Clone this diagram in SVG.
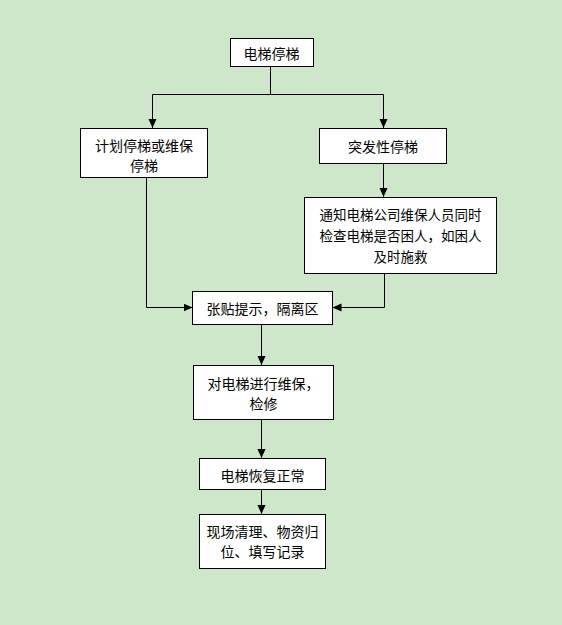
<svg xmlns="http://www.w3.org/2000/svg" width="562" height="625" viewBox="0 0 562 625">
<style>
.box{fill:#ffffff;stroke:#000000;stroke-width:1}
.t{font-family:"Noto Sans CJK SC","Noto Sans",sans-serif;font-size:14px;fill:#000000;text-anchor:middle;dominant-baseline:central}
.s{font-size:13.5px}
.ln{fill:none;stroke:#000000;stroke-width:1}
</style>
<defs>
<marker id="arr" markerUnits="userSpaceOnUse" markerWidth="9" markerHeight="9" viewBox="0 0 9 9" refX="9" refY="4.5" orient="auto">
<path d="M0,0.5 L9,4.5 L0,8.5 Z" fill="#000000"/>
</marker>
</defs>
<rect x="0" y="0" width="562" height="625" fill="#cee7ca"/>
<g id="connectors">
<path class="ln" d="M270.5,66 V94.5 H152.5 V128" marker-end="url(#arr)"/>
<path class="ln" d="M270.5,94.5 H383.5 V128" marker-end="url(#arr)"/>
<path class="ln" d="M383.5,163 V197" marker-end="url(#arr)"/>
<path class="ln" d="M146.5,177 V307.5 H192.5" marker-end="url(#arr)"/>
<path class="ln" d="M384.5,273 V307.5 H332.5" marker-end="url(#arr)"/>
<path class="ln" d="M261.5,324 V365" marker-end="url(#arr)"/>
<path class="ln" d="M261.5,419 V458" marker-end="url(#arr)"/>
<path class="ln" d="M261.5,489 V514" marker-end="url(#arr)"/>
</g>
<g id="n1">
<rect class="box" x="230.5" y="38.5" width="83" height="28"/>
<text class="t" x="271.5" y="52.5">电梯停梯</text>
</g>
<g id="n2">
<rect class="box" x="80.5" y="128.5" width="127" height="49"/>
<text class="t" x="144" y="145">计划停梯或维保</text>
<text class="t" x="144" y="165">停梯</text>
</g>
<g id="n3">
<rect class="box" x="319.5" y="128.5" width="127" height="35"/>
<text class="t" x="383" y="145.5">突发性停梯</text>
</g>
<g id="n4">
<rect class="box" x="304.5" y="197.5" width="192" height="76"/>
<text class="t s" x="400.5" y="214">通知电梯公司维保人员同时</text>
<text class="t s" x="400.5" y="235">检查电梯是否困人，如困人</text>
<text class="t s" x="400.5" y="256">及时施救</text>
</g>
<g id="n5">
<rect class="box" x="192.5" y="291.5" width="140" height="33"/>
<text class="t" x="262.5" y="307.5">张贴提示，隔离区</text>
</g>
<g id="n6">
<rect class="box" x="193.5" y="365.5" width="140" height="54"/>
<text class="t" x="263.5" y="382.5">对电梯进行维保，</text>
<text class="t" x="263.5" y="402.5">检修</text>
</g>
<g id="n7">
<rect class="box" x="199.5" y="458.5" width="126" height="31"/>
<text class="t" x="262.5" y="474.5">电梯恢复正常</text>
</g>
<g id="n8">
<rect class="box" x="199.5" y="514.5" width="126" height="54"/>
<text class="t" x="262.5" y="530.5">现场清理、物资归</text>
<text class="t" x="262.5" y="550.5">位、填写记录</text>
</g>
</svg>
